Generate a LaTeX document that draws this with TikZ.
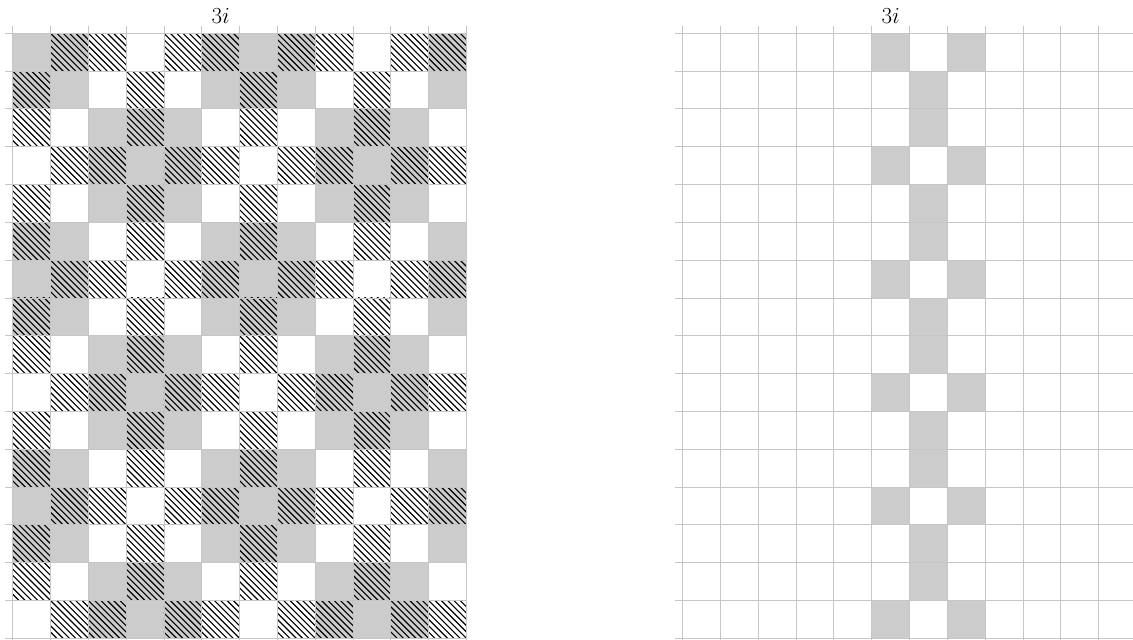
\documentclass[tikz,border=0pt]{standalone}
\begin{document}
\begin{tikzpicture}[x=1cm,y=-1cm,
  gridline/.style={draw=gray!45,line width=0.7pt},
  cellfill/.style={fill=gray!40},
  hatchline/.style={draw=black,line width=0.85pt},
  toplabel/.style={font=\LARGE,anchor=base,inner sep=0pt}]
\useasboundingbox (0,0) rectangle (29.96,16.92);
\def\LX{0.336}\def\RX{18.051}\def\TY{0.880}
% ---- left grid: grey cells
\foreach \r in {0,...,15}{
  \foreach \c in {0,...,11}{
    \pgfmathtruncatemacro{\g}{(mod(\r+1,6)>=3)==(mod(\c+1,6)>=3)}
    \ifnum\g=1 \fill[cellfill] ({\LX+\c},{\TY+\r}) rectangle ++(1,1);\fi
  }
}
% ---- left grid: hatching
\foreach \r in {0,...,15}{
  \foreach \c in {0,...,11}{
    \pgfmathtruncatemacro{\h}{(mod(\r,3)==0)!=(mod(\c,3)==0)}
    \ifnum\h=1
      \begin{scope}
        \clip ({\LX+\c},{\TY+\r}) rectangle ++(1,1);
        \foreach \j in {0,...,12}{
          \draw[hatchline] ({\LX+\c-1+\j/6-0.1},{\TY+\r-0.1}) -- ++(1.2,1.2);
        }
      \end{scope}
    \fi
  }
}
% ---- left grid lines
\foreach \c in {0,...,12} \draw[gridline] ({\LX+\c},{\TY-0.2}) -- ({\LX+\c},{\TY+16.1});
\foreach \r in {0,...,16} \draw[gridline] ({\LX-0.2},{\TY+\r}) -- ({\LX+12},{\TY+\r});
\node[toplabel] (labL) at ({\LX+5.5},{\TY-0.26}) {$3i$};
% ---- right grid: grey cells
\foreach \r in {0,...,15}{
  \pgfmathtruncatemacro{\m}{mod(\r,3)}
  \ifnum\m=0
    \fill[cellfill] ({\RX+5},{\TY+\r}) rectangle ++(1,1);
    \fill[cellfill] ({\RX+7},{\TY+\r}) rectangle ++(1,1);
  \else
    \fill[cellfill] ({\RX+6},{\TY+\r}) rectangle ++(1,1);
  \fi
}
% ---- right grid lines
\foreach \c in {0,...,12} \draw[gridline] ({\RX+\c},{\TY-0.2}) -- ({\RX+\c},{\TY+16.1});
\foreach \r in {0,...,16} \draw[gridline] ({\RX-0.2},{\TY+\r}) -- ({\RX+12},{\TY+\r});
\node[toplabel] (labR) at ({\RX+5.5},{\TY-0.26}) {$3i$};
\end{tikzpicture}
\end{document}
